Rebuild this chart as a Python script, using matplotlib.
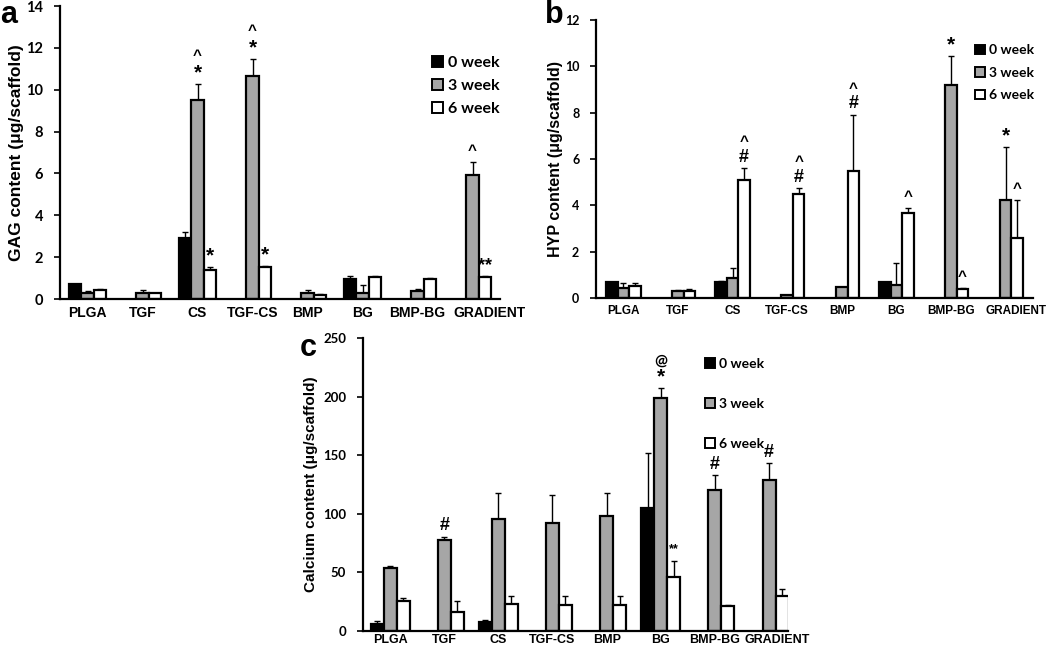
import numpy as np
import matplotlib
matplotlib.use('Agg')
import matplotlib.pyplot as plt
import matplotlib.transforms as mtransforms
from matplotlib.patches import Patch

nan = np.nan

# categorias (iguales en los tres paneles)
cats = ['PLGA', 'TGF', 'CS', 'TGF-CS', 'BMP', 'BG', 'BMP-BG', 'GRADIENT']
weeks = ['0 week', '3 week', '6 week']

# a - GAG
gag_0 = [0.70, nan, 2.90, nan, nan, 0.96, nan, nan]
gag_0_err = [0.04, 0, 0.32, 0, 0, 0.14, 0, 0]
gag_3 = [0.30, 0.30, 9.50, 10.67, 0.30, 0.29, 0.38, 5.93]
gag_3_err = [0.06, 0.15, 0.76, 0.81, 0.13, 0.38, 0.09, 0.62]
gag_6 = [0.45, 0.28, 1.39, 1.55, 0.20, 1.05, 0.94, 1.05]
gag_6_err = [0.04, 0.03, 0.16, 0.05, 0.02, 0.05, 0.08, 0.03]

# b - HYP
hyp_0 = [0.70, nan, 0.68, nan, nan, 0.69, nan, nan]
hyp_0_err = [0, 0, 0.05, 0, 0, 0, 0, 0]
hyp_3 = [0.45, 0.30, 0.85, 0.15, 0.47, 0.56, 9.18, 4.22]
hyp_3_err = [0.20, 0.03, 0.45, 0.0, 0.02, 0.95, 1.25, 2.28]
hyp_6 = [0.50, 0.32, 5.10, 4.48, 5.50, 3.66, 0.39, 2.58]
hyp_6_err = [0.15, 0.05, 0.50, 0.26, 2.40, 0.22, 0.03, 1.64]

# c - Calcio
ca_0 = [5.7, nan, 7.7, nan, nan, 105, nan, nan]
ca_0_err = [2.5, 0, 1.8, 0, 0, 47, 0, 0]
ca_3 = [53.5, 77.6, 95.5, 92, 98, 199, 120, 129]
ca_3_err = [2.0, 3.0, 22.5, 24, 20, 8, 13, 14]
ca_6 = [25.6, 16.5, 22.7, 22, 22, 46, 21, 30]
ca_6_err = [2.5, 9.0, 7.5, 8, 8, 14, 1, 6]

# anotaciones: (categoria, serie, simbolos de abajo a arriba)
notes_a = [(2, 1, ['*', '^']), (3, 1, ['*', '^']), (2, 2, ['*']), (3, 2, ['*']),
           (7, 1, ['^']), (7, 2, ['**'])]
notes_b = [(2, 2, ['#', '^']), (3, 2, ['#', '^']), (4, 2, ['#', '^']), (5, 2, ['^']),
           (6, 1, ['*']), (6, 2, ['^']), (7, 1, ['*']), (7, 2, ['^'])]
notes_c = [(1, 1, ['#']), (5, 1, ['*', '@']), (5, 2, ['**']), (6, 1, ['#']), (7, 1, ['#'])]

colores = ['black', '#a6a6a6', 'white']
SANS = ['Liberation Sans', 'DejaVu Sans']
NUM = ['Lato', 'DejaVu Sans']

# tamano y separacion de cada simbolo
sym_fs = {'*': 15, '**': 13, '^': 11, '#': 13, '@': 11}
sym_gap = {'*': 12, '**': 8, '^': 8, '#': 11, '@': 11}

fig = plt.figure(figsize=(10.5, 6.47), dpi=100)


def panel(rect, series, errs, ylim, yticks, ylabel, notes, xlim, width,
          fs_x, fs_y, fs_lab, letter, letter_xy, leg_xy, leg_space, leg_fs,
          grad_shift, lab_pad, x_pad=5, small_pair=False):
    ax = fig.add_axes(rect)
    x = np.arange(len(cats))
    for i in range(3):
        vals = np.array(series[i], dtype=float)
        e = np.array(errs[i], dtype=float)
        ax.bar(x + (i - 1) * width, vals, width, color=colores[i], edgecolor='black',
               linewidth=1.6, zorder=2)
        ok = ~np.isnan(vals)
        ax.errorbar(x[ok] + (i - 1) * width, vals[ok], yerr=[np.zeros(ok.sum()), e[ok]],
                    fmt='none', ecolor='black', elinewidth=1.0, capsize=2, capthick=1.0, zorder=1)
    ax.set_xlim(*xlim)
    ax.set_ylim(*ylim)
    ax.set_yticks(yticks)
    ax.set_yticklabels([str(t) for t in yticks], fontfamily=NUM, fontweight='bold', fontsize=fs_y)
    ax.set_xticks(x)
    ax.set_xticklabels(cats, fontfamily=SANS, fontweight='bold', fontsize=fs_x)
    ax.tick_params(axis='x', length=0, pad=x_pad)
    ax.tick_params(axis='y', length=4, width=1.2, direction='out', pad=8)
    # la etiqueta GRADIENT va algo desplazada a la derecha
    lab = ax.get_xticklabels()[-1]
    lab.set_transform(lab.get_transform() +
                      mtransforms.ScaledTranslation(grad_shift / 100, 0, fig.dpi_scale_trans))
    for s in ['top', 'right']:
        ax.spines[s].set_visible(False)
    for s in ['left', 'bottom']:
        ax.spines[s].set_linewidth(1.6)
    ax.set_ylabel(ylabel, fontfamily=SANS, fontweight='bold', fontsize=fs_lab, labelpad=lab_pad)

    for cat, ser, syms in notes:
        top = series[ser][cat] + errs[ser][cat]
        off = 8
        for s in syms:
            fs = sym_fs[s]
            if s == '**' and small_pair:
                fs = 9
            ax.annotate(s, (cat + (ser - 1) * width, top), xytext=(0, off), textcoords='offset points',
                        ha='center', va='center', fontsize=fs, fontweight='bold',
                        fontfamily=SANS if s != '@' else NUM)
            off += sym_gap[s]

    handles = [Patch(facecolor=colores[i], edgecolor='black', linewidth=1.4, label=weeks[i]) for i in range(3)]
    ax.legend(handles=handles, loc='center left', bbox_to_anchor=leg_xy, frameon=False,
              borderpad=0, borderaxespad=0,
              handlelength=0.7, handleheight=0.7, handletextpad=0.3, labelspacing=leg_space,
              prop={'family': NUM, 'weight': 'bold', 'size': leg_fs})
    fig.text(letter_xy[0], letter_xy[1], letter, fontsize=22, fontweight='bold', fontfamily=SANS,
             va='top', ha='left')
    return ax


panel([60 / 1050, 1 - 299 / 647, 440 / 1050, 293 / 647], [gag_0, gag_3, gag_6],
      [gag_0_err, gag_3_err, gag_6_err], (0, 14), list(range(0, 15, 2)),
      'GAG content (\u03bcg/scaffold)', notes_a, (-0.5, 7.5), 0.22,
      10, 10.5, 12.5, 'a', (0.0, 1.0), (0.845, 0.728), 0.55, 11.5, 17, 1.5)

panel([596 / 1050, 1 - 298 / 647, 437 / 1050, 278 / 647], [hyp_0, hyp_3, hyp_6],
      [hyp_0_err, hyp_3_err, hyp_6_err], (0, 12), list(range(0, 13, 2)),
      'HYP content (\u03bcg/scaffold)', notes_b, (-0.5, 7.5), 0.21,
      8.5, 9, 11.5, 'b', (545 / 1050, 1.0), (0.867, 0.81), 0.75, 10, 10, 1)

panel([363 / 1050, 1 - 631 / 647, 425 / 1050, 293 / 647], [ca_0, ca_3, ca_6],
      [ca_0_err, ca_3_err, ca_6_err], (0, 250), list(range(0, 251, 50)),
      'Calcium content (\u03bcg/scaffold)', notes_c, (-0.5, 7.35), 0.24,
      9, 9.5, 11, 'c', (300 / 1050, 1 - 333 / 647), (0.805, 0.775), 2.0, 10, 8, 4,
      x_pad=2, small_pair=True)

plt.savefig('out.png', dpi=100)
